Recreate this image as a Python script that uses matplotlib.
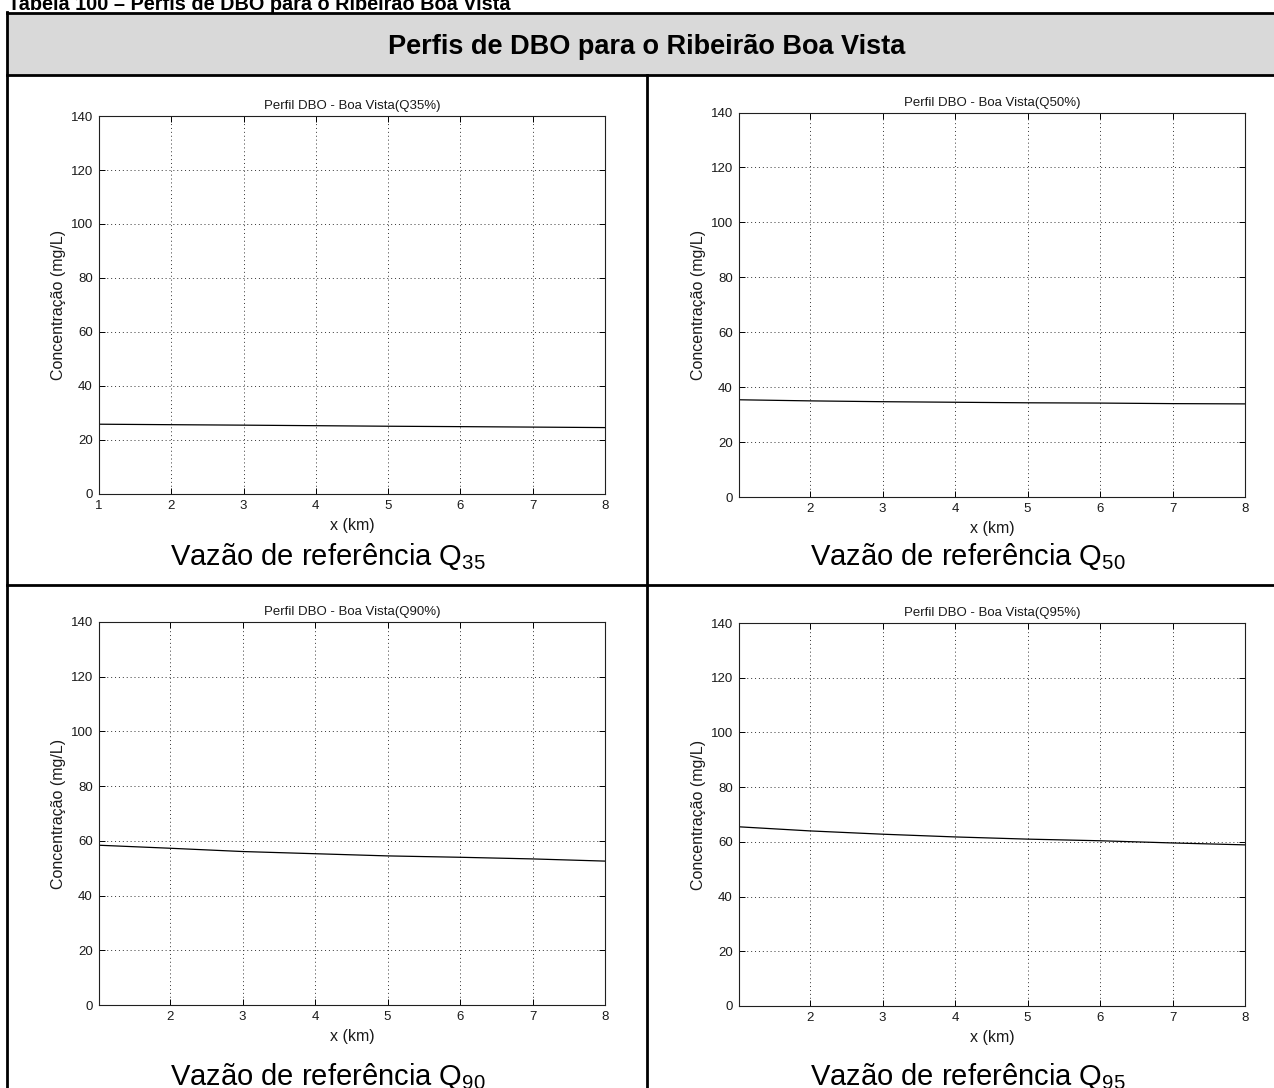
import matplotlib
matplotlib.use("Agg")
import matplotlib.pyplot as plt
from matplotlib.patches import Rectangle

# data (x in km, DBO in mg/L)
km_q35 = [1.0, 2.0, 3.0, 4.0, 5.0, 6.0, 7.0, 8.0]
km_rest = [1.02, 2.0, 3.0, 4.0, 5.0, 6.0, 7.0, 8.0]
dbo_q35 = [25.85, 25.67, 25.5, 25.3, 25.1, 24.95, 24.78, 24.6]
dbo_q50 = [35.4, 35.0, 34.7, 34.5, 34.3, 34.2, 34.0, 33.9]
dbo_q90 = [58.4, 57.3, 56.1, 55.3, 54.5, 54.0, 53.4, 52.6]
dbo_q95 = [65.5, 64.0, 62.8, 61.8, 61.0, 60.4, 59.6, 58.9]

plot_titles = ["Perfil DBO - Boa Vista(Q35%)", "Perfil DBO - Boa Vista(Q50%)",
               "Perfil DBO - Boa Vista(Q90%)", "Perfil DBO - Boa Vista(Q95%)"]
captions = ["35", "50", "90", "95"]
yticks = [0, 20, 40, 60, 80, 100, 120, 140]

W, H = 1274, 1088

plt.rcParams["font.family"] = ["Liberation Sans", "DejaVu Sans"]
plt.rcParams["mathtext.fontset"] = "custom"
plt.rcParams["mathtext.rm"] = "Liberation Sans"

fig = plt.figure(figsize=(W / 100, H / 100), dpi=100)

# table frame drawn in pixel coordinates
bg = fig.add_axes([0, 0, 1, 1], zorder=-1)
bg.set_xlim(0, W)
bg.set_ylim(H, 0)
bg.axis("off")
bg.add_patch(Rectangle((7, 13), 1280, 62, facecolor="#d9d9d9", edgecolor="none"))
lw = 2.0
bg.plot([7, 1290], [13, 13], color="black", lw=lw)
bg.plot([7, 1290], [75, 75], color="black", lw=lw)
bg.plot([7, 1290], [585, 585], color="black", lw=lw)
bg.plot([7, 7], [12, 1100], color="black", lw=lw)
bg.plot([647, 647], [75, 1100], color="black", lw=lw)

bg.text(8, 9.5, "Tabela 100 – Perfis de DBO para o Ribeirão Boa Vista",
        fontsize=14.3, fontweight="bold", ha="left", va="baseline")
bg.text(647, 47, "Perfis de DBO para o Ribeirão Boa Vista",
        fontsize=19.5, fontweight="bold", ha="center", va="center")

caption_pos = [(328, 557), (968, 557), (328, 1077), (968, 1077)]
for (cx, cy), q in zip(caption_pos, captions):
    bg.text(cx, cy, "Vazão de referência Q$_{\\mathrm{%s}}$" % q,
            fontsize=21, ha="center", va="center")

# axes boxes in pixels: left, top, right, bottom
boxes = [(99, 116, 605, 494), (739, 112.5, 1245, 497),
         (99, 622, 605, 1005), (739, 623, 1245, 1006)]
series = [(km_q35, dbo_q35), (km_rest, dbo_q50), (km_rest, dbo_q90), (km_rest, dbo_q95)]

txt = "#1a1a1a"
tick_size, label_size = 9.5, 11.5
for (l, t, r, b), (xs, ys), title in zip(boxes, series, plot_titles):
    ax = fig.add_axes([l / W, 1 - b / H, (r - l) / W, (b - t) / H])
    ax.plot(xs, ys, color="black", lw=0.9)
    ax.set_xlim(xs[0], 8)
    ax.set_ylim(0, 140)
    ax.set_yticks(yticks)
    ax.set_xticks([k for k in range(1, 9) if k >= xs[0]])
    ax.grid(True, color="#333333", linestyle=(0, (1, 3)), lw=0.7)
    ax.tick_params(direction="in", top=True, right=True, length=4, width=0.7,
                   pad=4.5, labelsize=tick_size, labelcolor=txt)
    for sp in ax.spines.values():
        sp.set_linewidth(0.8)
        sp.set_color("#202020")
    ax.set_title(title, fontsize=tick_size, color=txt, pad=5)
    ax.set_xlabel("x (km)", fontsize=label_size, color=txt, labelpad=4)
    ax.set_ylabel("Concentração (mg/L)", fontsize=label_size, color=txt, labelpad=3)

fig.savefig("out.png", dpi=100)
